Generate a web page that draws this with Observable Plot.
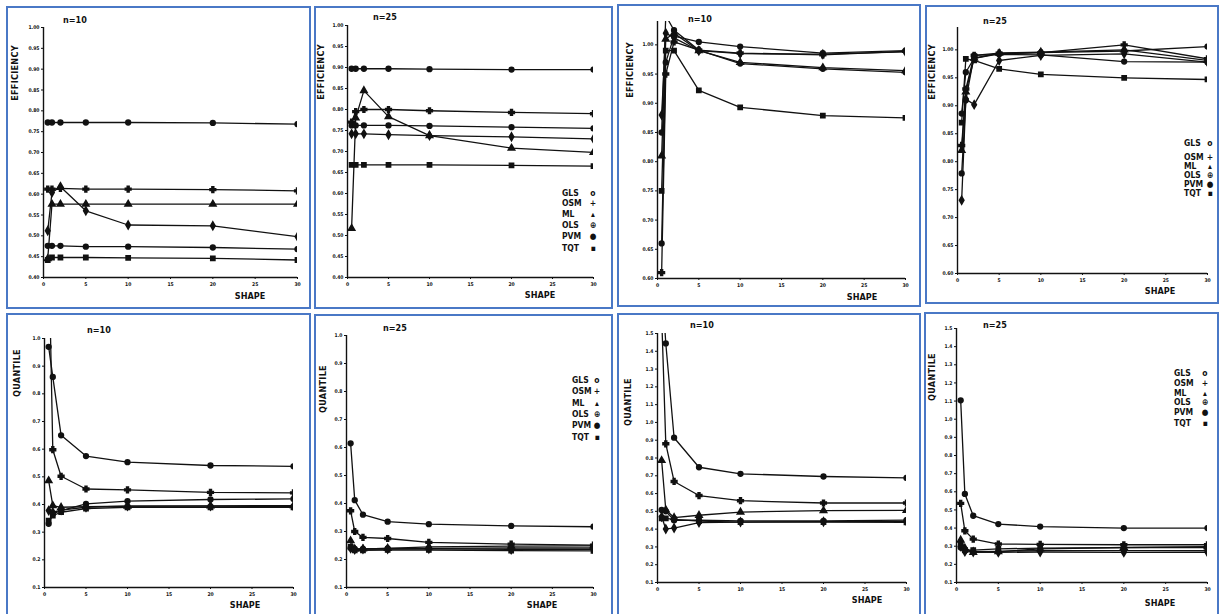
<!DOCTYPE html>
<html>
<head>
<meta charset="utf-8">
<script src="https://cdn.jsdelivr.net/npm/d3@7"></script>
<script src="https://cdn.jsdelivr.net/npm/@observablehq/plot@0.6"></script>
<style>
  html, body { margin: 0; padding: 0; background: #fff; }
  #page { position: relative; width: 1220px; height: 614px; overflow: hidden; background: #fff; }
  .border { position: absolute; border: 2px solid #4a78c6; box-sizing: border-box; }
  .lbl { position: absolute; font-family: "DejaVu Sans Condensed", "Liberation Sans Narrow", "DejaVu Sans", sans-serif; font-weight: bold; color: #111; white-space: pre; line-height: 1; }
  .ylab { transform: translate(-50%, -50%) rotate(-90deg); font-size: 9px; letter-spacing: 0.3px; }
  .xlab { transform: translate(-50%, -50%); font-size: 9px; }
  .nlab { transform: translate(0, -50%); font-size: 9px; }
  .leg { font-size: 8.5px; }
  .leg div { height: 0; position: absolute; transform: translateY(-50%); }
  .plot { position: absolute; }
</style>
</head>
<body>
<div id="page"></div>
<script>
// ---------- data ----------
const shapes = [0.5, 1, 2, 5, 10, 20, 30];
const methods = ["GLS", "OSM", "ML", "OLS", "PVM", "TQT"];
const legendSymbols = ["o", "+", "\u25B4", "\u2295", "\u25CF", "\u25AA"];
const xTicks = [0, 5, 10, 15, 20, 25, 30];
const effTicksLow = [0.40, 0.45, 0.50, 0.55, 0.60, 0.65, 0.70, 0.75, 0.80, 0.85, 0.90, 0.95, 1.00];
const effTicksHigh = [0.60, 0.65, 0.70, 0.75, 0.80, 0.85, 0.90, 0.95, 1.00];
const quantTicksA = [0.1, 0.2, 0.3, 0.4, 0.5, 0.6, 0.7, 0.8, 0.9, 1.0];
const quantTicksB = [0.1, 0.2, 0.3, 0.4, 0.5, 0.6, 0.7, 0.8, 0.9, 1.0, 1.1, 1.2, 1.3, 1.4, 1.5];

// rows follow `methods`, columns follow `shapes`
const effA_n10 = [
  [0.772, 0.772, 0.772, 0.772, 0.772, 0.771, 0.768],
  [0.612, 0.612, 0.614, 0.612, 0.612, 0.611, 0.608],
  [0.445, 0.576, 0.576, 0.576, 0.576, 0.576, 0.576],
  [0.476, 0.476, 0.476, 0.474, 0.474, 0.472, 0.468],
  [0.512, 0.604, 0.618, 0.560, 0.526, 0.524, 0.498],
  [0.442, 0.448, 0.448, 0.448, 0.447, 0.446, 0.442]
];
const effA_n25 = [
  [0.897, 0.897, 0.897, 0.897, 0.896, 0.895, 0.895],
  [0.770, 0.795, 0.800, 0.800, 0.797, 0.793, 0.790],
  [0.517, 0.780, 0.845, 0.783, 0.738, 0.708, 0.698],
  [0.762, 0.762, 0.762, 0.762, 0.761, 0.758, 0.755],
  [0.742, 0.742, 0.742, 0.740, 0.738, 0.735, 0.730],
  [0.668, 0.668, 0.668, 0.668, 0.668, 0.667, 0.665]
];
const effB_n10 = [
  [0.660, 0.970, 1.015, 1.005, 0.997, 0.986, 0.990],
  [0.610, 0.950, 1.005, 0.991, 0.986, 0.983, 0.989],
  [0.810, 1.010, 1.020, 0.990, 0.970, 0.961, 0.956],
  [0.850, 1.050, 1.025, 0.991, 0.968, 0.959, 0.953],
  [0.880, 1.020, 1.012, 0.990, 0.985, 0.984, 0.988],
  [0.750, 0.990, 0.990, 0.922, 0.893, 0.879, 0.875]
];
const effB_n25 = [
  [0.886, 0.960, 0.985, 0.993, 0.995, 0.998, 1.006],
  [0.829, 0.930, 0.990, 0.994, 0.995, 1.009, 0.984],
  [0.820, 0.925, 0.985, 0.994, 0.996, 1.000, 0.981],
  [0.779, 0.910, 0.990, 0.992, 0.991, 0.979, 0.978],
  [0.731, 0.912, 0.902, 0.981, 0.990, 0.993, 0.978],
  [0.870, 0.984, 0.981, 0.966, 0.956, 0.950, 0.947]
];
const quantA_n10 = [
  [0.970, 0.861, 0.650, 0.575, 0.553, 0.541, 0.538],
  [1.350, 0.598, 0.502, 0.456, 0.453, 0.444, 0.442],
  [0.486, 0.396, 0.390, 0.392, 0.394, 0.395, 0.396],
  [0.330, 0.366, 0.378, 0.402, 0.412, 0.418, 0.420],
  [0.378, 0.372, 0.380, 0.390, 0.394, 0.394, 0.393],
  [0.342, 0.360, 0.372, 0.385, 0.390, 0.390, 0.390]
];
const quantA_n25 = [
  [0.615, 0.412, 0.360, 0.335, 0.326, 0.320, 0.317],
  [0.374, 0.300, 0.279, 0.275, 0.261, 0.255, 0.251],
  [0.267, 0.237, 0.238, 0.240, 0.245, 0.248, 0.249],
  [0.241, 0.238, 0.238, 0.240, 0.240, 0.241, 0.241],
  [0.240, 0.236, 0.237, 0.237, 0.238, 0.236, 0.236],
  [0.245, 0.233, 0.233, 0.234, 0.234, 0.232, 0.231]
];
const quantB_n10 = [
  [1.800, 1.444, 0.914, 0.748, 0.711, 0.696, 0.688],
  [1.600, 0.880, 0.668, 0.589, 0.560, 0.547, 0.547],
  [0.786, 0.508, 0.465, 0.478, 0.496, 0.504, 0.506],
  [0.508, 0.500, 0.450, 0.450, 0.447, 0.447, 0.451],
  [0.470, 0.401, 0.406, 0.437, 0.440, 0.442, 0.444],
  [0.460, 0.460, 0.455, 0.445, 0.440, 0.440, 0.438]
];
const quantB_n25 = [
  [1.104, 0.588, 0.468, 0.422, 0.408, 0.400, 0.400],
  [0.536, 0.385, 0.339, 0.312, 0.310, 0.308, 0.308],
  [0.334, 0.290, 0.266, 0.270, 0.285, 0.293, 0.297],
  [0.293, 0.275, 0.270, 0.272, 0.276, 0.276, 0.275],
  [0.300, 0.270, 0.268, 0.266, 0.268, 0.266, 0.266],
  [0.310, 0.280, 0.278, 0.285, 0.290, 0.292, 0.293]
];

const panelTitles = ["n=10", "n=25", "n=10", "n=25", "n=10", "n=25", "n=10", "n=25"];
const yTitles = ["EFFICIENCY", "EFFICIENCY", "EFFICIENCY", "EFFICIENCY", "QUANTILE", "QUANTILE", "QUANTILE", "QUANTILE"];
const xTitle = "SHAPE";

// ---------- layout ----------
const panels = [
  {data: effA_n10, ticks: effTicksLow, dom: [0.40, 1.00], fmt: ".2f", box: [43, 297, 27, 277], border: [6, 6, 305, 303], ylab: [15, 73], nlab: [63, 20], xlab: [250, 296], legend: null},
  {data: effA_n25, ticks: effTicksLow, dom: [0.40, 1.00], fmt: ".2f", box: [347, 593, 25, 277], border: [314, 6, 299, 303], ylab: [321, 72], nlab: [373, 17], xlab: [540, 295], legend: [562, 593, [193, 203, 214, 225, 236, 248]]},
  {data: effB_n10, ticks: effTicksHigh, dom: [0.60, 1.04], fmt: ".2f", box: [657, 905, 21, 278], border: [617, 4, 304, 303], ylab: [630, 70], nlab: [688, 19], xlab: [862, 297], legend: null},
  {data: effB_n25, ticks: effTicksHigh, dom: [0.60, 1.04], fmt: ".2f", box: [957, 1207, 27, 273], border: [925, 5, 294, 299], ylab: [932, 72], nlab: [983, 21], xlab: [1160, 291], legend: [1184, 1210, [143, 157, 166, 175, 184, 193]]},
  {data: quantA_n10, ticks: quantTicksA, dom: [0.1, 1.0], fmt: ".1f", box: [44, 293, 338, 587], border: [6, 313, 305, 305], ylab: [17, 373], nlab: [87, 330], xlab: [245, 605], legend: null},
  {data: quantA_n25, ticks: quantTicksA, dom: [0.1, 1.0], fmt: ".1f", box: [346, 593, 335, 587], border: [314, 314, 299, 304], ylab: [323, 389], nlab: [383, 328], xlab: [542, 605], legend: [572, 597, [380, 391, 403, 414, 425, 437]]},
  {data: quantB_n10, ticks: quantTicksB, dom: [0.1, 1.5], fmt: ".1f", box: [657, 906, 333, 582], border: [617, 313, 304, 305], ylab: [628, 402], nlab: [690, 325], xlab: [867, 600], legend: null},
  {data: quantB_n25, ticks: quantTicksB, dom: [0.1, 1.5], fmt: ".1f", box: [956, 1207, 328, 582], border: [924, 312, 295, 306], ylab: [932, 377], nlab: [983, 325], xlab: [1160, 603], legend: [1174, 1205, [373, 383, 393, 402, 412, 423]]}
];

const page = document.getElementById("page");
const ML = 24, MR = 8, MT = 6, MB = 14;

function addLabel(cls, text, x, y) {
  const d = document.createElement("div");
  d.className = "lbl " + cls;
  d.textContent = text;
  d.style.left = x + "px";
  d.style.top = y + "px";
  page.appendChild(d);
  return d;
}

panels.forEach((p, i) => {
  const b = document.createElement("div");
  b.className = "border";
  b.style.left = p.border[0] + "px";
  b.style.top = p.border[1] + "px";
  b.style.width = p.border[2] + "px";
  b.style.height = p.border[3] + "px";
  page.appendChild(b);

  const rows = [];
  p.data.forEach((vals, m) => vals.forEach((v, k) => rows.push({method: methods[m], shape: shapes[k], value: v})));

  const [x0, x1, yTop, yBot] = p.box;
  const chart = Plot.plot({
    width: (x1 - x0) + ML + MR,
    height: (yBot - yTop) + MT + MB,
    marginLeft: ML, marginRight: MR, marginTop: MT, marginBottom: MB,
    style: {fontFamily: "DejaVu Sans Condensed, DejaVu Sans, sans-serif", fontSize: "5px", fontWeight: "bold", color: "#111", background: "transparent", overflow: "visible"},
    x: {domain: [0, 30]},
    y: {domain: p.dom},
    symbol: {domain: methods, range: ["circle", "cross", "triangle", "circle", "diamond", "square"]},
    marks: [
      Plot.axisX({ticks: xTicks, tickSize: 2, tickPadding: 3, label: null, tickFormat: d3.format("d")}),
      Plot.axisY({ticks: p.ticks, tickSize: 2, tickPadding: 2, label: null, tickFormat: d3.format(p.fmt)}),
      Plot.ruleY([p.dom[0]], {stroke: "#111", strokeWidth: 1.4}),
      Plot.ruleX([0], {stroke: "#111", strokeWidth: 1.4}),
      Plot.line(rows, {x: "shape", y: "value", z: "method", stroke: "#111", strokeWidth: 1.3, clip: true}),
      Plot.dot(rows, {x: "shape", y: "value", symbol: "method", fill: "#111", stroke: "#111", r: 2.4, clip: true})
    ]
  });
  const wrap = document.createElement("div");
  wrap.className = "plot";
  wrap.style.left = (x0 - ML) + "px";
  wrap.style.top = (yTop - MT) + "px";
  wrap.appendChild(chart);
  page.appendChild(wrap);

  addLabel("ylab", yTitles[i], p.ylab[0], p.ylab[1]);
  addLabel("nlab", panelTitles[i], p.nlab[0], p.nlab[1]);
  addLabel("xlab", xTitle, p.xlab[0], p.xlab[1]);

  if (p.legend) {
    const [lx, sx, ys] = p.legend;
    methods.forEach((m, k) => {
      addLabel("leg", m, lx, ys[k]).style.transform = "translateY(-50%)";
      addLabel("leg", legendSymbols[k], sx, ys[k]).style.transform = "translate(-50%, -50%)";
    });
  }
});
</script>
</body>
</html>
